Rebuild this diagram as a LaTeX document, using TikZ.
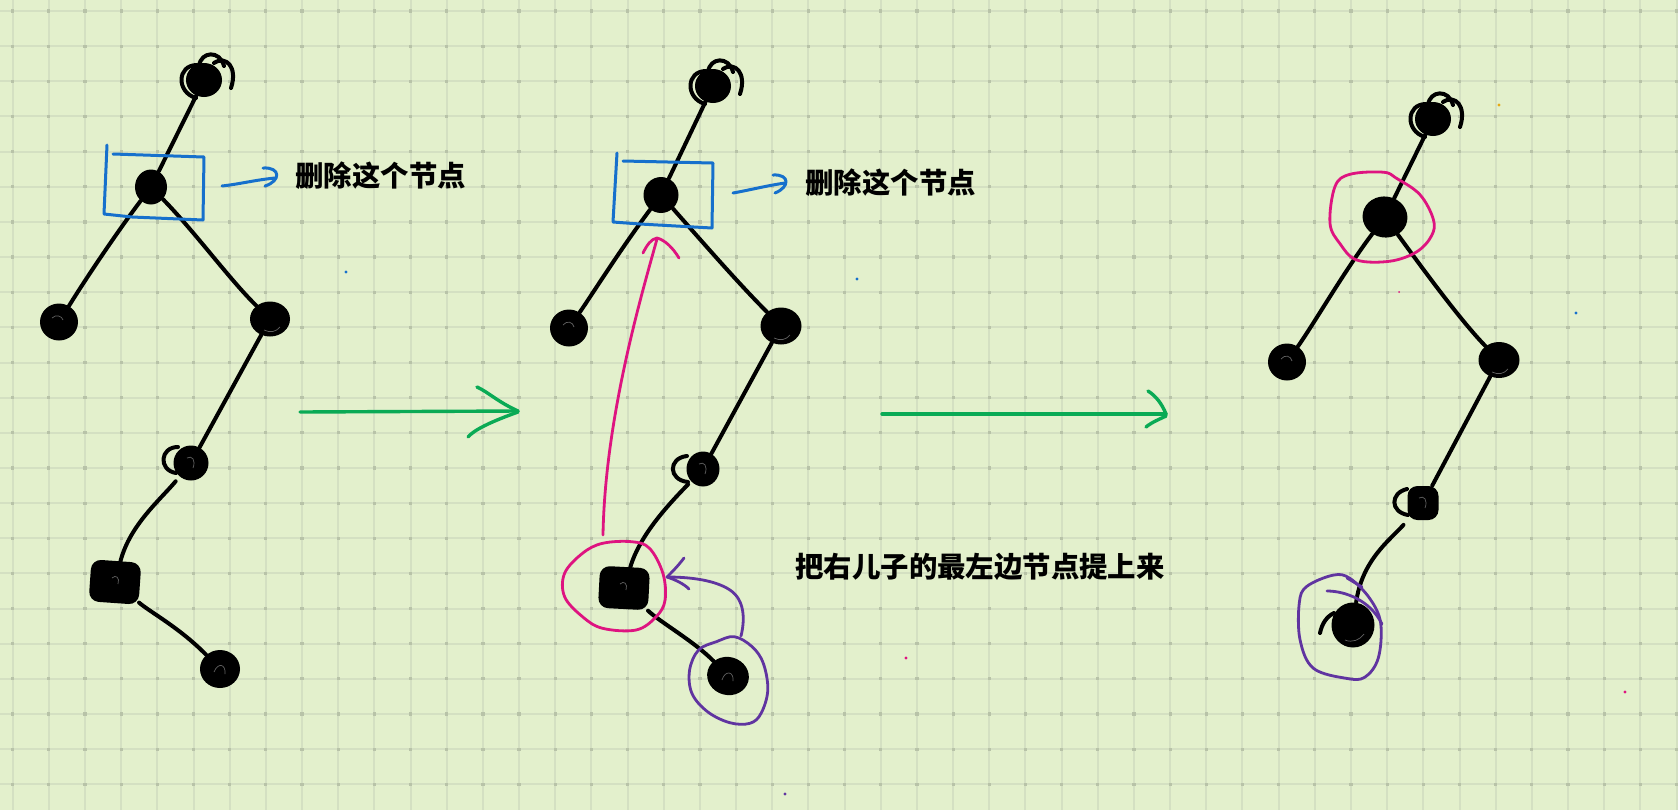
\documentclass[tikz,border=0pt]{standalone}
\usepackage{fontspec}
\newfontfamily\cjk{Noto Sans CJK SC}
\usetikzlibrary{shapes.geometric}
\definecolor{bg}{RGB}{227,240,204}
\definecolor{gridc}{RGB}{212,224,194}
\definecolor{gridd}{RGB}{184,195,168}
\definecolor{boxblue}{RGB}{22,112,204}
\definecolor{pinkc}{RGB}{222,20,128}
\definecolor{purp}{RGB}{96,52,160}
\definecolor{greenc}{RGB}{10,170,85}
\definecolor{dotyel}{RGB}{230,170,20}
\newcommand\topscrib{%
  \draw[ink] (-7,-15) .. controls (-27,-15) and (-28,12) .. (-8,18);
  \draw[ink] (-5,-14) .. controls (-3,-29) and (16,-30) .. (20,-14);
  \draw[ink] (10,-17) .. controls (22,-25) and (34,-13) .. (27,8);
}
\begin{document}
\begin{tikzpicture}[x=0.5pt,y=-0.5pt,
  ink/.style={line width=2pt, line cap=round, line join=round},
  blob/.style={ellipse, fill=black, inner sep=0pt},
  sqblob/.style={rectangle, rounded corners=5pt, fill=black, inner sep=0pt},
  bluepen/.style={draw=boxblue, line width=1.5pt, line cap=round, line join=round},
  pinkpen/.style={draw=pinkc, line width=1.4pt, line cap=round, line join=round},
  purppen/.style={draw=purp, line width=1.4pt, line cap=round, line join=round},
  greenpen/.style={draw=greenc, line width=1.7pt, line cap=round, line join=round},
  scrib/.style={draw=black!62, line width=0.35pt},
  lbl/.style={font=\cjk\bfseries\fontsize{14.2pt}{16pt}\selectfont, anchor=west, inner sep=0pt},
]
% background and grid
\fill[bg] (0,0) rectangle (1678,810);
\useasboundingbox (0,0) rectangle (1678,810);
\foreach \i in {0,...,46} \draw[gridc, line width=1pt] ({12.7+36.17*\i},0) -- ({12.7+36.17*\i},810);
\foreach \j in {0,...,22} \draw[gridc, line width=1pt] (0,{11+35.15*\j}) -- (1678,{11+35.15*\j});
\foreach \i in {0,...,46} \foreach \j in {0,...,22}
  \fill[gridd] ({12.7+36.17*\i-1.6},{11+35.15*\j-1.6}) rectangle ++(3.2,3.2);

% ================= panel 1 =================
\node[blob, minimum width=18pt, minimum height=17pt] (A1) at (204,80) {};
\node[blob, minimum width=16pt, minimum height=17.5pt] (B1) at (151,187) {};
\node[blob, minimum width=19pt, minimum height=18.5pt] (C1) at (59,322) {};
\node[blob, minimum width=20pt, minimum height=17.5pt] (D1) at (270,319) {};
\node[blob, minimum width=17.5pt, minimum height=17.5pt] (E1) at (191,463) {};
\node[sqblob, minimum width=25pt, minimum height=21pt, rotate=-4] (F1) at (115,582) {};
\node[blob, minimum width=20pt, minimum height=19pt] (G1) at (220,669) {};
\begin{scope}[shift={(A1)}]\topscrib\end{scope}
\draw[ink] (178,447) .. controls (160,447) and (158,470) .. (176,473);
\draw[scrib] (52,318) .. controls (56,314) and (62,316) .. (63,320);
\draw[scrib] (264,330) .. controls (270,333) and (276,332) .. (280,327);
\draw[scrib] (187,458) .. controls (192,455) and (196,460) .. (193,468);
\draw[scrib] (112,578) .. controls (116,574) and (120,578) .. (118,584);
\draw[scrib] (214,672) .. controls (218,662) and (226,664) .. (225,674);
% edges
\draw[ink] (A1) -- (B1);
\draw[ink] (B1) .. controls (115,235) and (85,280) .. (C1);
\draw[ink] (B1) .. controls (195,232) and (230,280) .. (D1);
\draw[ink] (D1) -- (E1);
\draw[ink, shorten <=3pt] (E1) .. controls (160,500) and (130,525) .. (F1);
\draw[ink] (F1) .. controls (150,612) and (180,628) .. (G1);
% blue box and arrow
\draw[bluepen] (107,145) -- (104,214) -- (132,217) -- (203,220) -- (204,157) -- (113,154);
\draw[bluepen] (222,186) .. controls (240,184) and (255,180) .. (275,178);
\draw[bluepen] (263,168) .. controls (281,167) and (281,181) .. (265,186);
\node[lbl] (T1) at (295,176) {删除这个节点};
% green arrow 1
\draw[greenpen] (300,412) -- (518,411);
\draw[greenpen] (477,387) .. controls (488,392) and (498,402) .. (518,411);
\draw[greenpen] (468,437) .. controls (474,430) and (490,422) .. (518,412);

% ================= panel 2 =================
\node[blob, minimum width=18pt, minimum height=17pt] (A2) at (713,86) {};
\node[blob, minimum width=17.5pt, minimum height=18pt] (B2) at (661,195) {};
\node[blob, minimum width=19pt, minimum height=18.5pt] (C2) at (569,328) {};
\node[blob, minimum width=20.5pt, minimum height=18.5pt] (D2) at (781,326) {};
\node[blob, minimum width=16.5pt, minimum height=17.5pt] (E2) at (703,469) {};
\node[sqblob, minimum width=25pt, minimum height=21pt, rotate=-3] (F2) at (624,588) {};
\node[blob, minimum width=21pt, minimum height=19pt, rotate=-15] (G2) at (728,676) {};
\begin{scope}[shift={(A2)}]\topscrib\end{scope}
\draw[ink] (687,456) .. controls (668,458) and (668,480) .. (688,482);
\draw[scrib] (563,325) .. controls (567,320) and (573,322) .. (574,327);
\draw[scrib] (774,338) .. controls (780,341) and (786,340) .. (790,335);
\draw[scrib] (699,464) .. controls (704,461) and (708,466) .. (705,474);
\draw[scrib] (620,584) .. controls (624,580) and (628,584) .. (626,590);
\draw[scrib] (722,680) .. controls (725,670) and (734,671) .. (733,681);
\draw[ink] (A2) -- (B2);
\draw[ink] (B2) .. controls (620,250) and (595,290) .. (C2);
\draw[ink] (B2) .. controls (705,245) and (740,285) .. (D2);
\draw[ink] (D2) -- (E2);
\draw[ink, shorten <=2pt] (E2) .. controls (668,505) and (640,535) .. (F2);
\draw[ink] (F2) .. controls (660,622) and (695,642) .. (G2);
% blue box and arrow
\draw[bluepen] (617,153) -- (613,222) -- (640,224) -- (712,228) -- (713,163) -- (623,161);
\draw[bluepen] (733,193) .. controls (750,190) and (765,186) .. (785,183);
\draw[bluepen] (773,175) .. controls (790,174) and (790,187) .. (775,193);
\node[lbl] (T2) at (805,183) {删除这个节点};
% pink circle + arrow
\draw[pinkpen] plot[smooth cycle, tension=0.6] coordinates {(602.6,543.3) (631.6,541.7) (649.5,548.3) (662.9,573.3) (665.1,600) (656.2,616.7) (636.1,630) (602.6,628.3) (582.5,616.7) (564.6,596.7) (564.6,573.3) (582.5,553.3)};
\draw[pinkpen] (603,535) .. controls (605,420) and (640,300) .. (657,239);
\draw[pinkpen] (643,253) .. controls (647,245) and (651,239) .. (657,238) .. controls (665,240) and (673,248) .. (679,258);
% purple circle + arrow
\draw[purppen] plot[smooth cycle, tension=0.6] coordinates {(734.3,636.7) (752.1,646.7) (763.3,663.3) (767.8,690) (761.1,713.3) (749.9,723.3) (729.8,722.7) (707.5,711.7) (691.9,693.3) (689.6,670) (698.6,650) (716.4,641.7)};
\draw[purppen] (741,636) .. controls (745,620) and (745,600) .. (730,590) .. controls (715,580) and (690,577) .. (667,577);
\draw[purppen] (684,558) .. controls (678,566) and (672,572) .. (667,577) .. controls (676,580) and (684,584) .. (689,589);
\node[lbl] (T3) at (795,567) {把右儿子的最左边节点提上来};
% green arrow 2
\draw[greenpen] (882,414) -- (1166,414);
\draw[greenpen] (1148,391) .. controls (1156,396) and (1162,404) .. (1166,414);
\draw[greenpen] (1146,427) .. controls (1152,422) and (1160,419) .. (1166,416);

% ================= panel 3 =================
\node[blob, minimum width=18pt, minimum height=17pt] (A3) at (1433,119) {};
\node[blob, minimum width=22.5pt, minimum height=20.5pt, rotate=-10] (B3) at (1385,217) {};
\node[blob, minimum width=19pt, minimum height=18.5pt] (C3) at (1287,362) {};
\node[blob, minimum width=20.5pt, minimum height=18pt] (D3) at (1499,360) {};
\node[sqblob, minimum width=15.5pt, minimum height=17pt] (E3) at (1423,503) {};
\node[blob, minimum width=21.5pt, minimum height=22.5pt] (F3) at (1353,625) {};
\begin{scope}[shift={(A3)}]\topscrib\end{scope}
\draw[ink] (1407,489) .. controls (1390,493) and (1390,512) .. (1408,515);
\draw[ink] (1320,633) .. controls (1322,624) and (1326,617) .. (1334,613);
\draw[scrib] (1281,359) .. controls (1285,354) and (1291,356) .. (1292,361);
\draw[scrib] (1492,372) .. controls (1498,375) and (1504,374) .. (1508,369);
\draw[scrib] (1419,498) .. controls (1424,495) and (1428,500) .. (1425,508);
\draw[scrib] (1345,640) .. controls (1352,643) and (1360,640) .. (1364,634);
\draw[ink] (A3) -- (B3);
\draw[ink] (B3) .. controls (1345,270) and (1315,322) .. (C3);
\draw[ink] (B3) .. controls (1420,265) and (1460,320) .. (D3);
\draw[ink] (D3) -- (E3);
\draw[ink, shorten <=3pt] (E3) .. controls (1390,540) and (1362,560) .. (F3);
% pink circle
\draw[pinkpen] plot[smooth cycle, tension=0.6] coordinates {(1350,174.3) (1383.3,172.2) (1396.7,178.4) (1420,194.7) (1433.3,219.2) (1431.7,235.5) (1416.7,251.8) (1390,261.2) (1356.7,260) (1340,243.7) (1330,223.3) (1335,186.5)};
% purple circle
\draw[purppen] plot[smooth cycle, tension=0.6] coordinates {(1306.7,586.5) (1333.3,575.1) (1350,578.4) (1370,598.8) (1380.7,623.3) (1378.3,658) (1365,677.1) (1346.7,678.4) (1313.3,668.2) (1300,639.6) (1299.3,602.9)};
\draw[purppen] (1327,591) .. controls (1345,591) and (1370,600) .. (1382,624);
\draw[purppen] (1347,578) -- (1362,587);

% stray dots
\fill[boxblue] (346,272) circle (1.6);
\fill[boxblue] (857,279) circle (1.6);
\fill[pinkc] (906,658) circle (1.6);
\fill[purp] (785,794) circle (1.6);
\fill[dotyel] (1499,105) circle (1.6);
\fill[boxblue] (1576,313) circle (1.6);
\fill[pinkc] (1625,692) circle (1.6);
\fill[pinkc] (1399,292) circle (1);
\end{tikzpicture}
\end{document}
